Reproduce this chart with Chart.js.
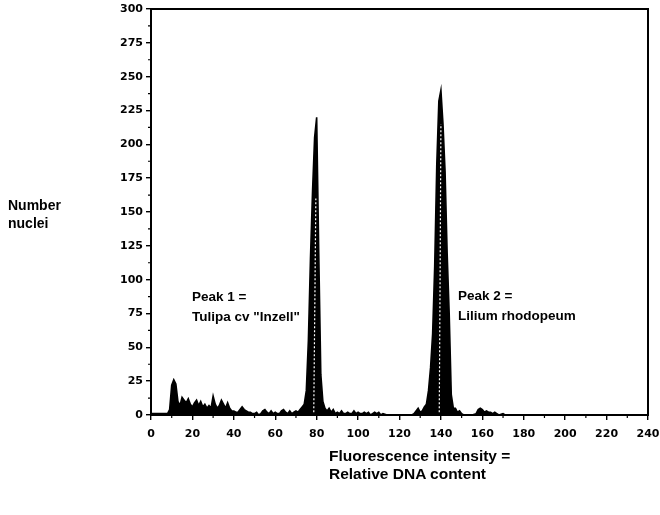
<!DOCTYPE html>
<html>
<head>
<meta charset="utf-8">
<script src="https://cdn.jsdelivr.net/npm/chart.js@4.4.0/dist/chart.umd.min.js"></script>
<style>
    body { margin: 0; background: #fff; }
    #wrap { position: relative; width: 660px; height: 515px; }
    .lbl { position: absolute; font-family: "Liberation Sans", Arial, sans-serif; font-weight: bold; color: #000; white-space: nowrap; }
</style>
</head>
<body>
<div id="wrap">
    <canvas id="histChart"></canvas>
    <div class="lbl" style="left:8px; top:196px; font-size:14px; line-height:18px;">Number<br>nuclei</div>
    <div class="lbl" style="left:192px; top:287px; font-size:13.5px; line-height:20px;">Peak 1 =<br>Tulipa cv "Inzell"</div>
    <div class="lbl" style="left:458px; top:286px; font-size:13.5px; line-height:20px;">Peak 2 =<br>Lilium rhodopeum</div>
    <div class="lbl" style="left:329px; top:447px; font-size:15.5px; line-height:18px;">Fluorescence intensity =<br>Relative DNA content</div>
</div>
<script>
// fluorescence channel (x) and number of nuclei (y)
const channels = [
    0, 8, 9, 10, 11, 12, 13, 14, 15, 16, 17, 18, 19, 20, 21, 22, 23, 24, 25, 26,
    27, 28, 29, 30, 31, 32, 33, 34, 35, 36, 37, 38, 39, 40, 41, 42, 43, 44, 45, 46,
    47, 48, 49, 50, 51, 52, 53, 54, 55, 56, 57, 58, 59, 60, 61, 62, 63, 64, 65, 66,
    67, 68, 69, 70, 71, 72, 73, 74, 75, 76, 77, 78, 79, 80, 81, 82, 83, 84, 85, 86,
    87, 88, 89, 90, 91, 92, 93, 94, 95, 96, 97, 98, 99, 100, 101, 102, 103, 104, 105, 106,
    107, 108, 109, 110, 111, 112, 114, 120, 126, 127, 128, 129, 130, 131, 132, 133, 134, 135, 136, 137,
    138, 139, 140, 141, 142, 143, 144, 145, 146, 147, 148, 149, 150, 151, 155, 157, 158, 159, 160, 161,
    162, 163, 164, 165, 166, 167, 168, 170, 171, 175
];
const nuclei = [
    1, 1, 4, 22, 26, 23, 10, 7, 13, 11, 9, 12, 8, 6, 9, 11, 7, 10, 6, 8,
    5, 7, 5, 14, 8, 5, 7, 11, 8, 5, 9, 5, 3, 3, 2, 2, 4, 6, 4, 3,
    2, 2, 1, 1, 2, 0, 1, 3, 4, 2, 1, 3, 1, 2, 1, 1, 3, 4, 2, 1,
    3, 1, 2, 3, 2, 4, 6, 8, 18, 55, 115, 165, 205, 220, 120, 30, 10, 5, 3, 5,
    2, 4, 1, 2, 1, 3, 1, 1, 2, 1, 1, 3, 1, 2, 1, 1, 2, 1, 2, 0,
    1, 2, 1, 2, 0, 1, 0, 0, 0, 1, 3, 5, 2, 3, 6, 8, 18, 35, 60, 110,
    185, 232, 240, 215, 180, 120, 75, 15, 5, 5, 2, 3, 1, 0, 0, 1, 4, 5, 4, 2,
    3, 2, 2, 1, 2, 1, 0, 1, 0, 0
];

// second (dotted) trace that shows through inside each peak
const dotted1Channels = [78.6, 79.1, 79.6];
const dotted1Nuclei = [2, 80, 160];
const dotted2Channels = [139.2, 139.6, 140];
const dotted2Nuclei = [2, 100, 215];

const xTicks = [0, 20, 40, 60, 80, 100, 120, 140, 160, 180, 200, 220, 240];
const yTicks = [0, 25, 50, 75, 100, 125, 150, 175, 200, 225, 250, 275, 300];

// frame round the plot area plus the short minor ticks
const framePlugin = {
    id: 'frame',
    afterDraw(chart) {
        const { ctx, chartArea: a, scales } = chart;
        ctx.save();
        ctx.strokeStyle = '#000';
        ctx.lineWidth = 2;
        ctx.strokeRect(a.left, a.top, a.right - a.left, a.bottom - a.top);
        ctx.lineWidth = 1.2;
        ctx.beginPath();
        for (let i = 0; i < xTicks.length - 1; i++) {
            const px = scales.x.getPixelForValue((xTicks[i] + xTicks[i + 1]) / 2);
            ctx.moveTo(px, a.bottom);
            ctx.lineTo(px, a.bottom + 3);
        }
        for (let i = 0; i < yTicks.length - 1; i++) {
            const py = scales.y.getPixelForValue((yTicks[i] + yTicks[i + 1]) / 2);
            ctx.moveTo(a.left, py);
            ctx.lineTo(a.left - 3, py);
        }
        ctx.stroke();
        ctx.restore();
    }
};

const tickFont = { family: '"DejaVu Sans", sans-serif', size: 11, weight: 'bold' };

function dottedSet(xs, ys) {
    return {
        data: xs.map((c, i) => ({ x: c, y: ys[i] })),
        borderColor: '#fff',
        borderWidth: 1.2,
        borderDash: [2, 2],
        fill: false,
        pointRadius: 0,
        tension: 0,
        order: 0
    };
}

new Chart(document.getElementById('histChart'), {
    type: 'line',
    data: {
        datasets: [{
            data: channels.map((c, i) => ({ x: c, y: nuclei[i] })),
            borderColor: '#000',
            backgroundColor: '#000',
            borderWidth: 1.6,
            fill: 'origin',
            pointRadius: 0,
            tension: 0,
            order: 1
        },
        dottedSet(dotted1Channels, dotted1Nuclei),
        dottedSet(dotted2Channels, dotted2Nuclei)]
    },
    options: {
        responsive: true,
        maintainAspectRatio: false,
        animation: false,
        layout: { padding: { top: 9, right: 12, left: 0, bottom: 0 } },
        plugins: {
            legend: { display: false },
            tooltip: { enabled: false }
        },
        scales: {
            x: {
                type: 'linear',
                min: 0,
                max: 240,
                afterBuildTicks: (s) => { s.ticks = xTicks.map(v => ({ value: v })); },
                afterFit: (s) => { s.height = 100; s.paddingLeft = 0; s.paddingRight = 0; },
                ticks: { color: '#000', font: tickFont, padding: 8, maxRotation: 0, autoSkip: false },
                grid: { drawOnChartArea: false, color: '#000', tickLength: 5, lineWidth: 1.4 },
                border: { display: true, color: '#000', width: 2 }
            },
            y: {
                min: 0,
                max: 300,
                afterBuildTicks: (s) => { s.ticks = yTicks.map(v => ({ value: v })); },
                afterFit: (s) => { s.width = 151; s.paddingTop = 0; s.paddingBottom = 0; },
                ticks: { color: '#000', font: tickFont, padding: 3, autoSkip: false },
                grid: { drawOnChartArea: false, color: '#000', tickLength: 5, lineWidth: 1.4 },
                border: { display: true, color: '#000', width: 2 }
            }
        }
    },
    plugins: [framePlugin]
});
</script>
</body>
</html>
